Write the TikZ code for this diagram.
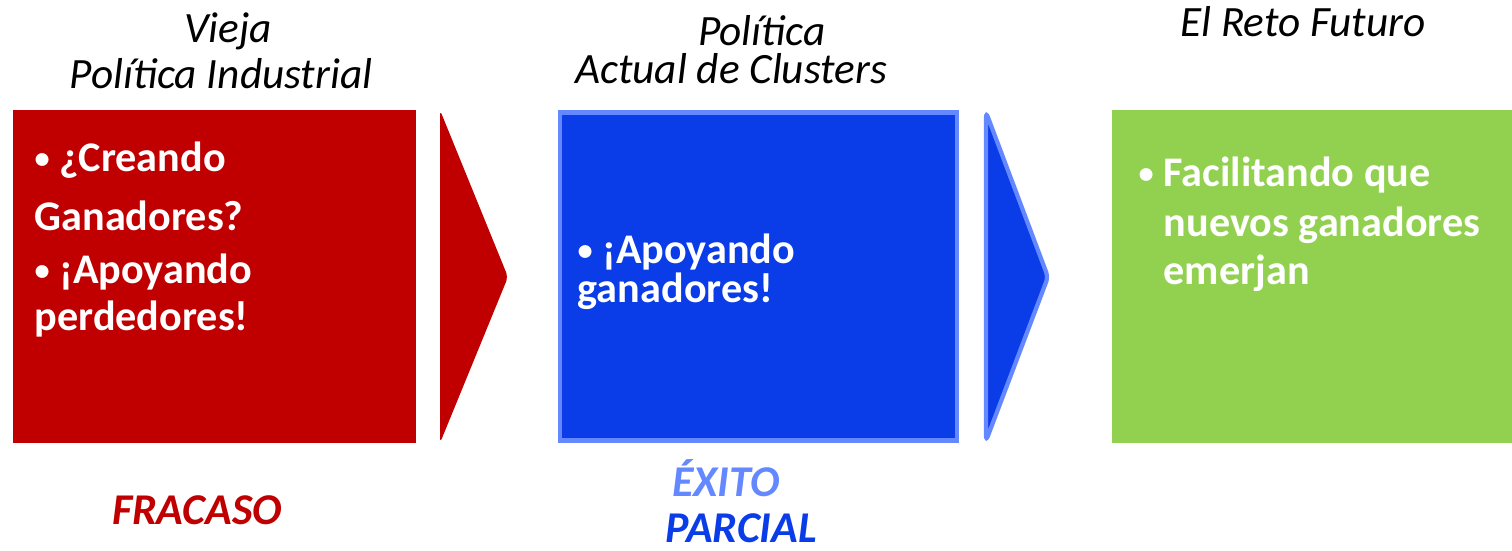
\documentclass[tikz,border=0pt]{standalone}
\usepackage{graphicx}
\usepackage{fontspec}
\setmainfont{Carlito}
\definecolor{oldred}{HTML}{C00000}
\definecolor{nowblue}{HTML}{0A3CE8}
\definecolor{edgeblue}{HTML}{6488FF}
\definecolor{futgreen}{HTML}{92D050}
\newcommand{\itembullet}{\raisebox{0.7pt}{\scalebox{0.72}{\textbullet}}}
\begin{document}
\begin{tikzpicture}[x=0.01cm,y=-0.01cm,
  box/.style={inner sep=0, minimum width=4.03cm, minimum height=3.33cm},
  title/.style={font=\itshape\fontsize{12.3}{14}\selectfont, anchor=base, inner sep=0},
  item/.style={font=\bfseries\fontsize{12}{14}\selectfont, text=white, anchor=base west, inner sep=0},
  verdict/.style={font=\bfseries\itshape\fontsize{12.5}{14}\selectfont, anchor=base, inner sep=0}]
\useasboundingbox (0,0) rectangle (1512,550);

% boxes
\node[box, fill=oldred] (old) at (214.5,276.5) {};
\node[box, fill=nowblue, draw=edgeblue, line width=1.3pt, minimum width=3.97cm, minimum height=3.28cm] (now) at (758.5,276.5) {};
\node[box, fill=futgreen, minimum width=4.0cm] (fut) at (1312,276.5) {};

% chevrons
\path[fill=oldred, rounded corners=1.5pt] (440,110) -- (508,277) -- (440,443) -- cycle;
\path[fill=nowblue, draw=edgeblue, line width=1.2pt, rounded corners=1.5pt] (986,112) -- (1048,277) -- (986,441) -- cycle;

% titles
\node[title] (t1a) at (228,42) {Vieja};
\node[title] (t1b) at (221,88) {Política Industrial};
\node[title] (t2a) at (762,45) {Política};
\node[title] (t2b) at (731,83) {Actual de Clusters};
\node[title] (t3) at (1303,36) {El Reto Futuro};

% red box text
\node[item] (r1) at (34,171) {\itembullet\ ¿Creando};
\node[item] (r2) at (34,230) {Ganadores?};
\node[item] (r3) at (34,283) {\itembullet\ ¡Apoyando};
\node[item] (r4) at (34,330) {perdedores!};

% blue box text
\node[item] (b1) at (577,263) {\itembullet\ ¡Apoyando};
\node[item] (b2) at (577,302) {ganadores!};

% green box text
\node[item] (g0) at (1138,186) {\itembullet};
\node[item] (g1) at (1163,186) {Facilitando que};
\node[item] (g2) at (1163,236) {nuevos ganadores};
\node[item] (g3) at (1163,284) {emerjan};

% verdicts
\node[verdict, text=oldred] (v1) at (197,524) {FRACASO};
\node[verdict, text=edgeblue] (v2a) at (726,496) {ÉXITO};
\node[verdict, text=nowblue] (v2b) at (741,542) {PARCIAL};
\end{tikzpicture}
\end{document}
